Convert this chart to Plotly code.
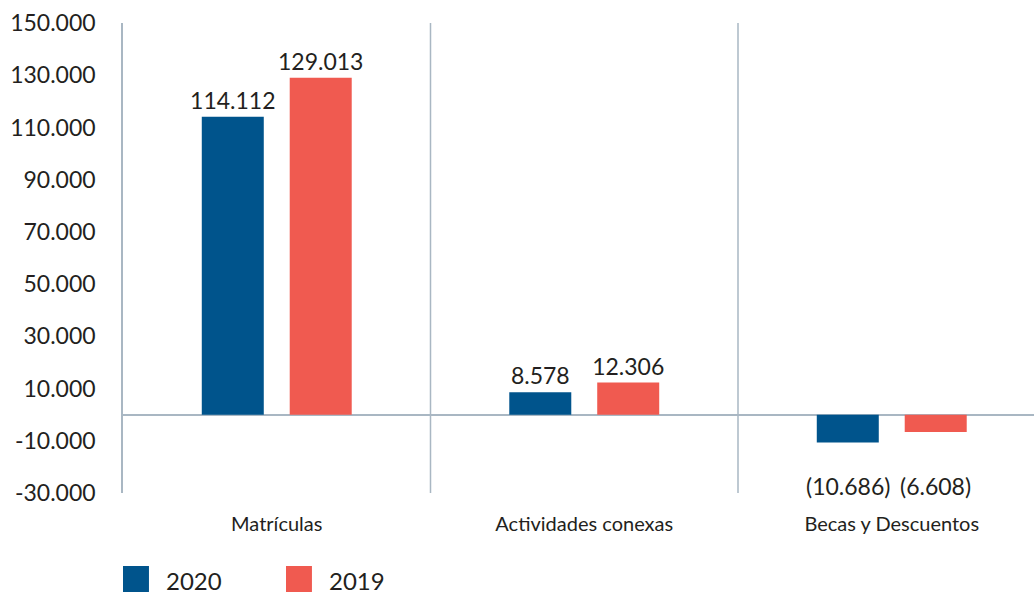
import plotly.graph_objects as go

categories = ["Matrículas", "Actividades conexas", "Becas y Descuentos"]
series_names = ["2020", "2019"]
values_2020 = [114112, 8578, -10686]
values_2019 = [129013, 12306, -6608]
y_ticks = [150000, 130000, 110000, 90000, 70000, 50000, 30000, 10000, -10000, -30000]

BLUE = "#00548C"
RED = "#F05A50"
TXT = "#231F20"
LINE = "#A9B7C3"
FONT = "Lato"


def fmt(v):
    s = f"{abs(v):,}".replace(",", ".")
    return f"({s})" if v < 0 else s


fig = go.Figure()
for name, vals, col in [(series_names[0], values_2020, BLUE), (series_names[1], values_2019, RED)]:
    fig.add_trace(go.Bar(
        x=categories, y=vals, name=name, marker=dict(color=col, line=dict(width=0)),
        text=[fmt(v) if v > 0 else "" for v in vals],
        textposition="outside", cliponaxis=False, constraintext="none",
        textfont=dict(family=FONT, size=23, color=TXT),
        showlegend=False,
    ))

# labels for negative values, shown near the bottom of the plot
annotations = []
for vals, shift in [(values_2020, -44), (values_2019, 44)]:
    for c, v in zip(categories, vals):
        if v < 0:
            annotations.append(dict(x=c, y=-27500, xref="x", yref="y", text=fmt(v),
                                    showarrow=False, xshift=shift,
                                    font=dict(family=FONT, size=23, color=TXT)))

# manual legend
shapes = []
for i, (name, col) in enumerate([(series_names[0], BLUE), (series_names[1], RED)]):
    x0 = i * 0.1789
    shapes.append(dict(type="rect", xref="paper", yref="paper", x0=x0, x1=x0 + 0.0285,
                       y0=-0.2106, y1=-0.1553, fillcolor=col, line=dict(width=0)))
    annotations.append(dict(x=x0 + 0.045, y=-0.187, xref="paper", yref="paper", text=name,
                            showarrow=False, xanchor="left", yanchor="middle",
                            font=dict(family=FONT, size=24, color=TXT)))

# category separators
for xs in [0.5, 1.5]:
    shapes.append(dict(type="line", xref="x", yref="y", x0=xs, x1=xs, y0=-30000, y1=150000,
                       line=dict(color=LINE, width=1.5), layer="below"))

fig.update_layout(
    width=1034, height=598,
    margin=dict(l=123, r=0, t=23, b=105),
    paper_bgcolor="white", plot_bgcolor="white",
    barmode="group", bargap=0.428, bargroupgap=0.295,
    font=dict(family=FONT, color=TXT),
    showlegend=False,
    shapes=shapes, annotations=annotations,
    xaxis=dict(range=[-0.5, 2.4626], showgrid=False, showline=False, ticks="",
               automargin=False,
               tickfont=dict(family=FONT, size=20, color=TXT), ticklabelstandoff=17),
    yaxis=dict(range=[-30000, 150000], tickvals=y_ticks, automargin=False,
               ticktext=[fmt(v) if v >= 0 else "-" + fmt(-v) for v in y_ticks],
               showgrid=False, showline=True, linecolor=LINE, linewidth=1.5, ticks="",
               zeroline=True, zerolinecolor=LINE, zerolinewidth=1.5,
               tickfont=dict(family=FONT, size=23, color=TXT), ticklabelstandoff=21),
)

fig.write_html("out.html", config={"displayModeBar": False},
               post_script="document.body.style.margin='0';")
